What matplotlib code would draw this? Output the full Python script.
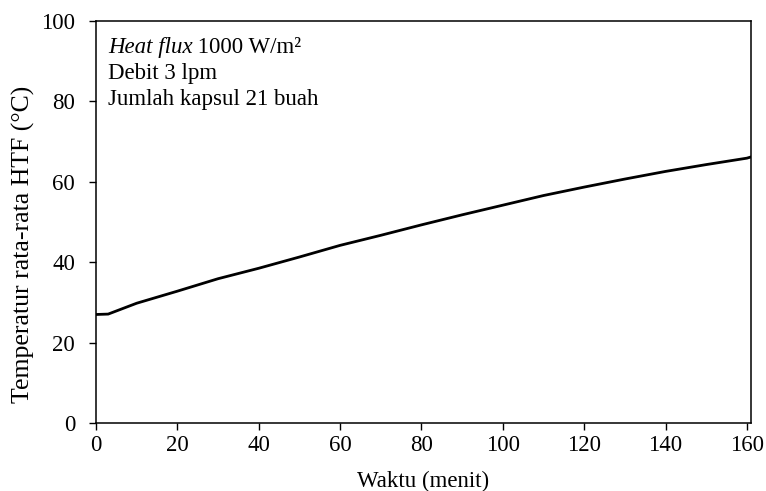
import matplotlib.pyplot as plt
import numpy as np

plt.rcParams['font.family'] = ['Liberation Serif', 'DejaVu Serif']

waktu = [0, 3, 10, 20, 30, 40, 50, 60, 70, 80, 90, 100, 110, 120, 130, 140, 150, 160, 161]
suhu = [27.0, 27.1, 29.8, 32.8, 35.9, 38.5, 41.3, 44.2, 46.7, 49.3, 51.8, 54.2, 56.6, 58.7, 60.7, 62.6, 64.3, 65.9, 66.2]

fs = 16.5

fig = plt.figure(figsize=(7.66, 4.91), dpi=100)
ax = fig.add_axes([0.1253, 0.1385, 0.8551, 0.8185])

ax.plot(waktu, suhu, color='black', linewidth=2.0)

ax.set_xlim(0, 161)
ax.set_ylim(0, 100)
ax.set_xticks(np.arange(0, 161, 20))
ax.set_yticks(np.arange(0, 101, 20))
ax.tick_params(direction='out', length=5, width=1, labelsize=fs)
ax.tick_params(axis='y', pad=10)
ax.tick_params(axis='x', pad=4)
for s in ax.spines.values():
    s.set_linewidth(1.1)

ax.set_xlabel('Waktu (menit)', fontsize=fs, labelpad=10)
ax.set_ylabel('Temperatur rata-rata HTF (°C)', fontsize=18.5)
ax.yaxis.set_label_coords(-0.093, 0.445)

# annotation, first line has an italic part
t1 = ax.text(0.018, 0.96, 'Heat flux', transform=ax.transAxes, fontsize=fs,
             style='italic', va='top')
fig.canvas.draw()
bb = t1.get_window_extent().transformed(ax.transAxes.inverted())
ax.text(bb.x1, 0.96, ' 1000 W/m²', transform=ax.transAxes, fontsize=fs, va='top')
ax.text(0.018, 0.895, 'Debit 3 lpm', transform=ax.transAxes, fontsize=fs, va='top')
ax.text(0.018, 0.83, 'Jumlah kapsul 21 buah', transform=ax.transAxes, fontsize=fs, va='top')

fig.savefig('out.png', dpi=100)
